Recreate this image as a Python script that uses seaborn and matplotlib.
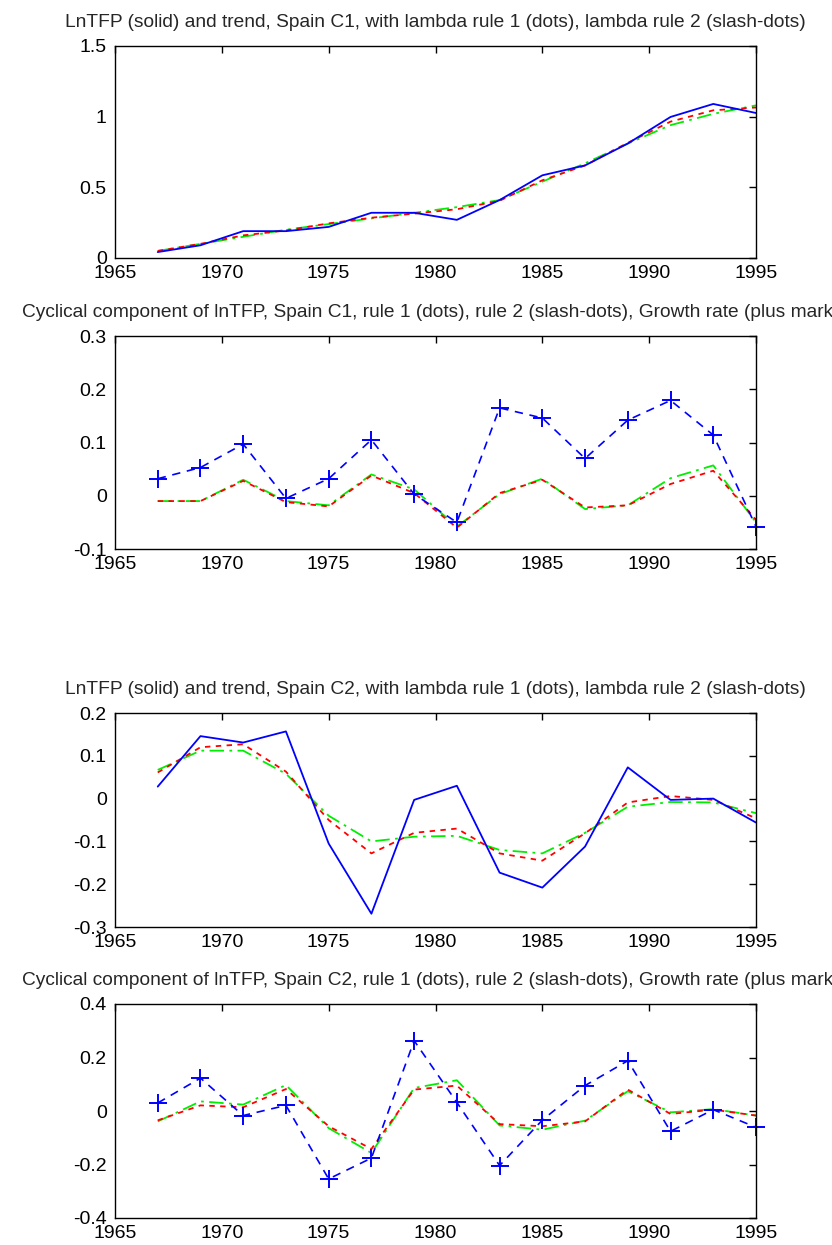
import numpy as np
import pandas as pd
import seaborn as sns
import matplotlib
matplotlib.use("Agg")
import matplotlib.pyplot as plt

sns.set_theme(style="white")
plt.rcParams['font.family'] = ['Liberation Sans', 'DejaVu Sans']

years = [1967, 1969, 1971, 1973, 1975, 1977, 1979, 1981, 1983, 1985, 1987, 1989, 1991, 1993, 1995]

# Spain C1
c1_lntfp = [0.042, 0.09, 0.19, 0.19, 0.22, 0.32, 0.32, 0.27, 0.41, 0.585, 0.655, 0.81, 0.998, 1.09, 1.026]
c1_trend1 = [0.05, 0.10, 0.16, 0.195, 0.245, 0.285, 0.314, 0.345, 0.405, 0.55, 0.655, 0.815, 0.965, 1.045, 1.065]
c1_trend2 = [0.05, 0.10, 0.15, 0.20, 0.24, 0.28, 0.32, 0.36, 0.41, 0.54, 0.67, 0.81, 0.94, 1.02, 1.08]
c1_cyc1 = [-0.01, -0.01, 0.028, -0.012, -0.02, 0.038, 0.005, -0.06, 0.005, 0.03, -0.022, -0.018, 0.022, 0.047, -0.045]
c1_cyc2 = [-0.01, -0.01, 0.03, -0.01, -0.018, 0.04, 0.012, -0.058, 0.003, 0.032, -0.025, -0.018, 0.033, 0.057, -0.05]
c1_growth = [0.032, 0.053, 0.097, -0.005, 0.032, 0.105, 0.003, -0.05, 0.165, 0.146, 0.07, 0.142, 0.179, 0.114, -0.058]

# Spain C2
c2_lntfp = [0.028, 0.146, 0.131, 0.157, -0.105, -0.269, -0.003, 0.03, -0.173, -0.208, -0.112, 0.073, -0.003, 0.0, -0.056]
c2_trend1 = [0.061, 0.12, 0.127, 0.063, -0.05, -0.128, -0.08, -0.07, -0.128, -0.145, -0.081, -0.009, 0.006, -0.003, -0.046]
c2_trend2 = [0.067, 0.112, 0.112, 0.058, -0.04, -0.10, -0.089, -0.087, -0.12, -0.128, -0.08, -0.019, -0.008, -0.009, -0.034]
c2_cyc1 = [-0.035, 0.021, 0.014, 0.082, -0.057, -0.142, 0.08, 0.095, -0.049, -0.057, -0.039, 0.08, -0.011, 0.005, -0.017]
c2_cyc2 = [-0.039, 0.036, 0.024, 0.097, -0.064, -0.157, 0.086, 0.115, -0.054, -0.07, -0.036, 0.074, -0.005, 0.007, -0.017]
c2_growth = [0.03, 0.123, -0.017, 0.021, -0.254, -0.176, 0.263, 0.032, -0.204, -0.034, 0.095, 0.188, -0.076, 0.005, -0.061]

title_level = "LnTFP (solid) and trend, Spain {}, with lambda rule 1 (dots), lambda rule 2 (slash-dots)"
title_cycle = "Cyclical component of lnTFP, Spain {}, rule 1 (dots), rule 2 (slash-dots), Growth rate (plus marks)"

W, H = 832, 1245
fig = plt.figure(figsize=(W / 100, H / 100), dpi=100)
fig.patch.set_facecolor("white")

def make_ax(top, bottom, left=115, right=756):
    return fig.add_axes([left / W, 1 - bottom / H, (right - left) / W, (bottom - top) / H])

def style(ax, ylim, yticks, ylabels):
    ax.set_xlim(1965, 1995)
    ax.set_xticks([1965, 1970, 1975, 1980, 1985, 1990, 1995])
    ax.set_ylim(*ylim)
    ax.set_yticks(yticks)
    ax.set_yticklabels(ylabels)
    ax.set_xlabel("")
    ax.set_ylabel("")
    ax.tick_params(direction="in", length=5, width=1, top=True, right=True,
                   labelsize=14, colors="black")
    ax.tick_params(axis="x", pad=5)
    ax.tick_params(axis="y", pad=6)
    for s in ax.spines.values():
        s.set_color("black")
        s.set_linewidth(1)
    ax.set_facecolor("white")
    if ax.get_legend():
        ax.get_legend().remove()

def level_panel(ax, lntfp, t1, t2, name):
    df = pd.DataFrame({"year": years, "lntfp": lntfp, "t1": t1, "t2": t2})
    sns.lineplot(data=df, x="year", y="t2", ax=ax, color="#00ee00", linewidth=1.3)
    ax.lines[-1].set_linestyle((0, (8, 3, 1.5, 3)))
    sns.lineplot(data=df, x="year", y="t1", ax=ax, color="#ff0000", linewidth=1.3)
    ax.lines[-1].set_linestyle((0, (3, 3)))
    sns.lineplot(data=df, x="year", y="lntfp", ax=ax, color="#0000ff", linewidth=1.3)
    ax.set_title(title_level.format(name), fontsize=13.8, pad=14)

def cycle_panel(ax, c1, c2, g, name):
    df = pd.DataFrame({"year": years, "c1": c1, "c2": c2, "g": g})
    sns.lineplot(data=df, x="year", y="c2", ax=ax, color="#00ee00", linewidth=1.3)
    ax.lines[-1].set_linestyle((0, (8, 3, 1.5, 3)))
    sns.lineplot(data=df, x="year", y="c1", ax=ax, color="#ff0000", linewidth=1.3)
    ax.lines[-1].set_linestyle((0, (3, 3)))
    sns.lineplot(data=df, x="year", y="g", ax=ax, color="#0000ff", linewidth=1.2,
                 marker="+", markersize=13, markeredgewidth=1.4, markeredgecolor="#0000ff")
    ax.lines[-1].set_linestyle((0, (5, 4)))
    ax.lines[-1].set_clip_on(False)
    ax.set_title(title_cycle.format(name), fontsize=13.8, pad=14)

ax1 = make_ax(46, 258)
level_panel(ax1, c1_lntfp, c1_trend1, c1_trend2, "C1")
style(ax1, (0, 1.5), [0, 0.5, 1, 1.5], ["0", "0.5", "1", "1.5"])

ax2 = make_ax(336, 549)
cycle_panel(ax2, c1_cyc1, c1_cyc2, c1_growth, "C1")
style(ax2, (-0.1, 0.3), [-0.1, 0, 0.1, 0.2, 0.3], ["-0.1", "0", "0.1", "0.2", "0.3"])

ax3 = make_ax(713, 927)
level_panel(ax3, c2_lntfp, c2_trend1, c2_trend2, "C2")
style(ax3, (-0.3, 0.2), [-0.3, -0.2, -0.1, 0, 0.1, 0.2], ["-0.3", "-0.2", "-0.1", "0", "0.1", "0.2"])

ax4 = make_ax(1004, 1218)
cycle_panel(ax4, c2_cyc1, c2_cyc2, c2_growth, "C2")
style(ax4, (-0.4, 0.4), [-0.4, -0.2, 0, 0.2, 0.4], ["-0.4", "-0.2", "0", "0.2", "0.4"])

fig.savefig("out.png", dpi=100)
